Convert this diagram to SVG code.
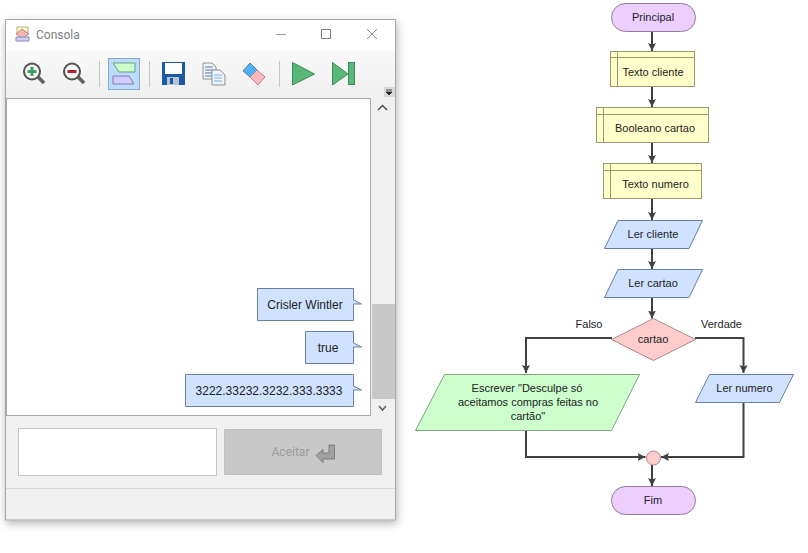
<svg xmlns="http://www.w3.org/2000/svg" width="808" height="553" viewBox="0 0 808 553">
<style>
text{font-family:"Liberation Sans",Arial,sans-serif;font-size:11px;fill:#222;text-anchor:middle}
.term{fill:#eccfff;stroke:#8f7a9a}
.decl{fill:#ffffcc;stroke:#9a9a6a}
.io{fill:#cfe2ff;stroke:#6a7fa5}
.out{fill:#ccffcc;stroke:#7fa57f}
.dec{fill:#ffcccc;stroke:#b08a8a}
.conn{fill:none;stroke:#404040;stroke-width:2}
.bub{fill:#cfe2ff;stroke:#6c7f9f}
.bt{font-size:12px;fill:#222}
</style>
<defs>
<marker id="ah" markerUnits="userSpaceOnUse" markerWidth="9" markerHeight="9" refX="8" refY="4" orient="auto"><path d="M0 0L8 4L0 8L1.5 4Z" fill="#404040"/></marker>
<filter id="sh" x="-5%" y="-5%" width="110%" height="110%"><feDropShadow dx="1" dy="3" stdDeviation="4" flood-color="#000" flood-opacity="0.3"/></filter>
<linearGradient id="tb" x1="0" y1="0" x2="0" y2="1"><stop offset="0" stop-color="#fafafa"/><stop offset="1" stop-color="#efefef"/></linearGradient>
</defs>
<rect width="808" height="553" fill="#fff"/>

<g id="window">
<rect x="5.500" y="19.500" width="390" height="500.500" fill="#f0f0f0" stroke="#a8a8a8" filter="url(#sh)"/>
<rect x="6" y="20" width="389" height="30" fill="#fff"/>
<rect x="6" y="50" width="389" height="47" fill="url(#tb)"/>
<g id="title-icon">
<path d="M17 27H28V33H17Z" fill="#ffffcc" stroke="#b8b080"/>
<path d="M16 34L22 29L29 34L22 38Z" fill="#ffb3b3" stroke="#b08a8a"/>
<path d="M16 37H29V41H16Z" fill="#cfcfff" stroke="#8a8ab0"/>
</g>
<text x="36" y="39" text-anchor="start" style="text-anchor:start;font-family:Roboto,sans-serif;font-size:12px;fill:#808080">Consola</text>
<path d="M276 34.500H286" stroke="#9a9a9a" fill="none"/>
<rect x="321.500" y="29.500" width="9" height="9" fill="none" stroke="#808080"/>
<path d="M367 29L377 39M377 29L367 39" stroke="#909090" fill="none"/>
<g id="tool-zoom-in">
<circle cx="32" cy="71.500" r="8" fill="#f8f8f8" stroke="#505050" stroke-width="2"/>
<path d="M38 77L44 83" stroke="#606060" stroke-width="3.500"/>
<path d="M32 67V76M27.500 71.500H36.500" stroke="#3aa060" stroke-width="3"/>
</g>
<g id="tool-zoom-out">
<circle cx="72" cy="71.500" r="8" fill="#f8f8f8" stroke="#505050" stroke-width="2"/>
<path d="M78 77L84 83" stroke="#606060" stroke-width="3.500"/>
<path d="M67.500 71.500H76.500" stroke="#b02030" stroke-width="3"/>
</g>
<path d="M99.500 61V87M149.500 61V87M279.500 61V87" stroke="#c4c4c4"/>
<g id="tool-toggle">
<rect x="108.500" y="58.500" width="31" height="31" fill="#bcdcff" stroke="#88a8cc"/>
<path d="M113 63H135V72H119Z" fill="#ccffcc" stroke="#6a9a7a"/>
<path d="M113 76H129L134 84H113Z" fill="#d4ccff" stroke="#7a7aa8"/>
</g>
<g id="tool-save">
<path d="M162 62H185V85H162Z" fill="#1a5aa8"/>
<rect x="165" y="63" width="17" height="11" fill="#fff"/>
<rect x="167" y="77" width="12" height="8" fill="#b8c4d0"/>
<rect x="170" y="78" width="3" height="6" fill="#1a5aa8"/>
</g>
<g id="tool-copy">
<path d="M203 63H212L216 67V79H203Z" fill="#f4f4f4" stroke="#909090"/>
<path d="M205 67H213M205 70H213M205 73H213M205 76H213" stroke="#4a78b8"/>
<path d="M212 70H220L225 75V85H212Z" fill="#eef4ff" stroke="#909090"/>
<path d="M214 75H222M214 78H222M214 81H222" stroke="#80b0e0"/>
</g>
<g id="tool-erase">
<path d="M243 71L250 63L257 70L250 77Z" fill="#50b0f8" stroke="#607a98"/>
<path d="M250 77L257 70L265 77L258 85Z" fill="#ffb8c0" stroke="#a08a90"/>
</g>
<g id="tool-run">
<path d="M292.500 62.500L314.500 74L292.500 85Z" fill="#58b878" stroke="#3c8a58"/>
</g>
<g id="tool-step">
<path d="M332.500 62.500L348 74L332.500 85Z" fill="#58b878" stroke="#3c8a58"/>
<rect x="348.500" y="62.500" width="6" height="22" fill="#58b878" stroke="#3c8a58"/>
</g>
<rect x="384" y="87" width="11" height="10" fill="#d8d8d8"/>
<path d="M386 90H392M386 92H392L389 95Z" fill="#222" stroke="#222" stroke-width="0.800"/>
<rect x="6.500" y="98.500" width="364" height="317" fill="#fff" stroke="#a8a8a8"/>
<rect x="372" y="98" width="23" height="318" fill="#f0f0f0"/>
<rect x="372" y="304" width="23" height="95" fill="#c8c8c8"/>
<path d="M378 110L382.500 105.500L387 110" fill="none" stroke="#505050" stroke-width="1.500"/>
<path d="M379 406L382.500 410L386 406" fill="none" stroke="#606060" stroke-width="1.500"/>
<path class="bub" d="M257.500 288.500H353.500V300L361.500 304H353.500V320.500H257.500Z"/>
<text class="bt" x="305" y="309">Crisler Wintler</text>
<path class="bub" d="M305.500 331.500H353.500V343L361.500 347H353.500V363.500H305.500Z"/>
<text class="bt" x="328" y="352">true</text>
<path class="bub" d="M185.500 374.500H353.500V386L361.500 390H353.500V406.500H185.500Z"/>
<text class="bt" x="269" y="395">3222.33232.3232.333.3333</text>
<rect x="18.500" y="428.500" width="198" height="47" fill="#fff" stroke="#c4c4c4"/>
<rect x="224.500" y="429.500" width="157" height="45" fill="#c8c8c8" stroke="#c0c0c0"/>
<text x="290.500" y="456" style="font-family:Roboto,sans-serif;font-size:12px;fill:#9a9a9a">Aceitar</text>
<path d="M329 445H334.500V459H323V462.500L316 455.500L323 449.500V453H329Z" fill="#a0a0a0" stroke="#7c7c7c"/>
<path d="M6 488.500H395" stroke="#d8d8d8"/>
</g>

<g id="connectors" class="conn">
<path class="conn" marker-end="url(#ah)" d="M652 32V51"/>
<path class="conn" marker-end="url(#ah)" d="M652 87V107"/>
<path class="conn" marker-end="url(#ah)" d="M652 143V163"/>
<path class="conn" marker-end="url(#ah)" d="M652 199V220"/>
<path class="conn" marker-end="url(#ah)" d="M652 248V269"/>
<path class="conn" marker-end="url(#ah)" d="M652 298V318.500"/>
<path class="conn" marker-end="url(#ah)" d="M612 338H526V373"/>
<path class="conn" marker-end="url(#ah)" d="M695 338H743.500V373"/>
<path class="conn" marker-end="url(#ah)" d="M526 431V457H645.500"/>
<path class="conn" marker-end="url(#ah)" d="M743.500 403V457H661"/>
<path class="conn" marker-end="url(#ah)" d="M652 465V486"/>
</g>

<g id="n-principal"><rect class="term" x="611.500" y="3.500" width="84" height="28" rx="14"/><text x="653" y="21">Principal</text></g>
<g id="n-texto-cliente"><rect class="decl" x="610.500" y="51.500" width="84" height="35"/><path class="decl" d="M610.500 57.500H694.500M617.500 51.500V86.500"/><text x="653" y="76">Texto cliente</text></g>
<g id="n-booleano"><rect class="decl" x="596.500" y="107.500" width="112" height="35"/><path class="decl" d="M596.500 114.500H708.500M603.500 107.500V142.500"/><text x="655" y="132">Booleano cartao</text></g>
<g id="n-texto-numero"><rect class="decl" x="603.500" y="163.500" width="98" height="35"/><path class="decl" d="M603.500 170.500H701.500M610.500 163.500V198.500"/><text x="655.500" y="188">Texto numero</text></g>
<g id="n-ler-cliente"><path class="io" d="M618 220.500H702.500L689 248.500H604.500Z"/><text x="653" y="238">Ler cliente</text></g>
<g id="n-ler-cartao"><path class="io" d="M618 269.500H702.500L689 297.500H604.500Z"/><text x="653" y="287">Ler cartao</text></g>
<g id="n-cartao"><path class="dec" d="M653.500 318.500L695.500 339.500L653.500 360.500L611.500 339.500Z"/><text x="653" y="343">cartao</text></g>
<text x="589" y="328">Falso</text>
<text x="721.500" y="328">Verdade</text>
<g id="n-escrever"><path class="out" d="M444.500 374.500H639.500L611.500 430.500H415.500Z"/><text x="527" y="392">Escrever "Desculpe só</text><text x="528" y="406">aceitamos compras feitas no</text><text x="528" y="420">cartão"</text></g>
<g id="n-ler-numero"><path class="io" d="M709.500 374.500H793.500L779.500 402.500H695.500Z"/><text x="744.500" y="392">Ler numero</text></g>
<g id="n-junta"><circle class="dec" cx="653.500" cy="458" r="7"/></g>
<g id="n-fim"><rect class="term" x="611.500" y="486.500" width="84" height="28" rx="14"/><text x="653" y="504">Fim</text></g>
</svg>
